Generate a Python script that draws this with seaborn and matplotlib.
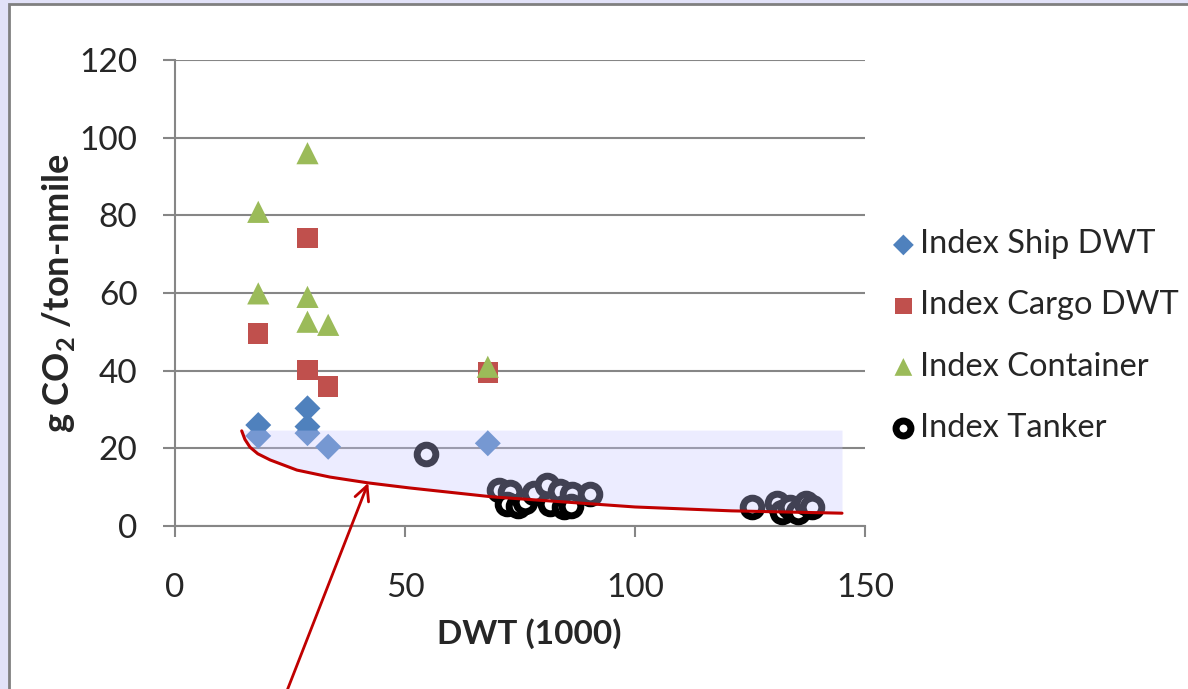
import matplotlib
matplotlib.use("Agg")
import matplotlib.pyplot as plt
import seaborn as sns
import pandas as pd
from matplotlib.patches import Rectangle

# data
ship_x = [18.1, 18.1, 28.8, 28.8, 28.8, 33.3, 68.0]
ship_y = [26.0, 23.2, 30.3, 25.6, 23.9, 20.4, 21.3]

cargo_x = [18.1, 28.8, 28.8, 33.3, 68.0]
cargo_y = [49.6, 74.1, 40.2, 35.9, 39.5]

cont_x = [18.1, 28.8, 18.1, 28.8, 28.8, 33.3, 68.0]
cont_y = [80.9, 96.0, 59.9, 59.0, 52.6, 51.8, 41.0]

tank_x = [54.6, 70.5, 72.8, 72.2, 74.5, 76.0, 78.0, 80.9, 81.5, 83.7, 84.5,
          86.2, 86.0, 90.2, 125.4, 130.8, 132.0, 133.7, 135.5, 137.2, 138.5]
tank_y = [18.5, 9.3, 8.8, 5.6, 5.2, 6.3, 8.6, 10.5, 5.6, 9.0, 5.0,
          8.2, 5.2, 8.3, 5.0, 6.0, 3.6, 5.0, 3.6, 6.0, 5.0]

# lower-bound trend line, read as points
curve_x = [14.5, 15.2, 16.3, 18.0, 20.7, 26.5, 33.7, 42.0, 51.0, 69.0, 100.0, 121.0, 145.0]
curve_y = [24.5, 22.3, 20.3, 18.6, 17.0, 14.4, 12.6, 11.1, 9.8, 7.5, 4.9, 3.9, 3.3]
band_top = 24.7

sns.set_style("white")
plt.rcParams["font.family"] = ["Lato", "DejaVu Sans"]
plt.rcParams["mathtext.fontset"] = "custom"
plt.rcParams["mathtext.rm"] = "Lato"
plt.rcParams["mathtext.bf"] = "Lato:bold"

fig = plt.figure(figsize=(11.88, 6.89), dpi=100, facecolor="#e2e2f8")
panel = Rectangle((8.5 / 1188, -0.01), 1.0, 1 - 3.5 / 689 + 0.01,
                  transform=fig.transFigure, facecolor="white",
                  edgecolor="#808080", linewidth=2, zorder=-5)
fig.patches.append(panel)
ax = fig.add_axes([175 / 1188, 1 - 526 / 689, 690 / 1188, 466 / 689])
ax.set_facecolor("none")
ax.set_zorder(1)

grid_c = "#868686"
sns.scatterplot(x=ship_x, y=ship_y, marker="D", s=175, color="#4f81bd",
                edgecolor="none", label="Index Ship DWT", ax=ax, zorder=3)
sns.scatterplot(x=cargo_x, y=cargo_y, marker="s", s=215, color="#c0504d",
                edgecolor="none", label="Index Cargo DWT", ax=ax, zorder=3)
sns.scatterplot(x=cont_x, y=cont_y, marker="^", s=255, color="#9bbb59",
                edgecolor="none", label="Index Container", ax=ax, zorder=3)
sns.scatterplot(x=tank_x, y=tank_y, marker="o", s=180, facecolor="white",
                edgecolor="black", linewidth=5, label="Index Tanker", ax=ax, zorder=3)

# shaded band above the trend line
ax.fill_between(curve_x, curve_y, band_top, color="#c8c8ff", alpha=0.33,
                linewidth=0, zorder=4)
sns.lineplot(x=curve_x, y=curve_y, color="#c00000", linewidth=2.2, sort=False,
             ax=ax, zorder=5, legend=False)
ax.annotate("", xy=(42.0, 11.1), xytext=(23.5, -45), annotation_clip=False,
            arrowprops=dict(arrowstyle="->", color="#c00000", lw=2,
                            mutation_scale=26, shrinkA=0, shrinkB=0), zorder=6)

ax.set_xlim(0, 150)
ax.set_ylim(0, 120)
ax.set_xticks([0, 50, 100, 150])
ax.set_yticks(range(0, 121, 20))
ax.yaxis.grid(True, color=grid_c, linewidth=1.5)
ax.set_axisbelow(True)
for side in ["top", "right"]:
    ax.spines[side].set_visible(False)
for side in ["left", "bottom"]:
    ax.spines[side].set_color(grid_c)
    ax.spines[side].set_linewidth(1.5)
ax.tick_params(axis="y", length=9, width=1.5, color=grid_c, labelsize=24, pad=18, left=True)
ax.tick_params(axis="x", length=8, width=1.5, color=grid_c, labelsize=24, pad=26, bottom=True)

ax.set_xlabel("DWT (1000)", fontsize=24, fontweight="bold")
ax.set_ylabel(r"g CO$_\mathbf{2}$ /ton-nmile", fontsize=26, fontweight="bold")
ax.xaxis.set_label_coords(0.514, -0.198)
ax.yaxis.set_label_coords(-0.142, 0.5)

ax.legend(loc="center left", bbox_to_anchor=(874 / 1188, 1 - 336 / 689),
          bbox_transform=fig.transFigure, frameon=False, fontsize=23.5,
          handletextpad=0.0, labelspacing=0.95, markerscale=0.8,
          handlelength=1.0, borderaxespad=0)

fig.savefig("out.png", dpi=100, facecolor=fig.get_facecolor())
